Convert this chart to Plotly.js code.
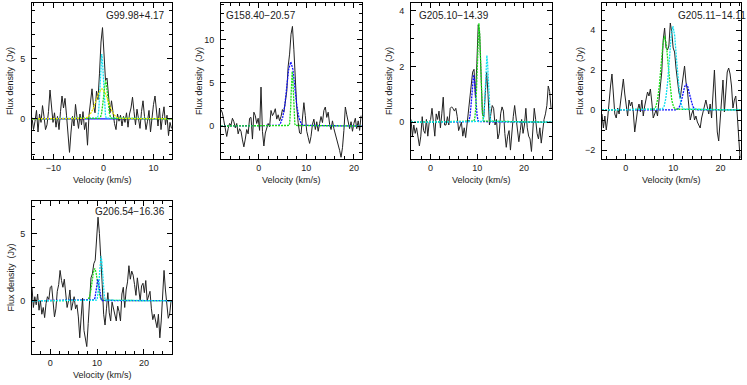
<!DOCTYPE html>
<html>
<head>
<meta charset="utf-8">
<script src="https://cdn.plot.ly/plotly-3.0.1.min.js"></script>
<style>
  html, body { margin: 0; padding: 0; background: #fff; }
  #plot { width: 747px; height: 385px; }
</style>
</head>
<body>
<div id="plot"></div>
<script>
// source names, one per panel
const sourceNames = ['G99.98+4.17', 'G158.40−20.57', 'G205.10−14.39', 'G205.11−14.11', 'G206.54−16.36'];

// first channel velocity (km/s) and channel width
const velStart = [-14.3, -7.9, -4.2, -5.0, -3.9];
const velStep = 0.3;

// observed flux density per channel (Jy)
const fluxG99 = [0.1, -0.9, -0.2, 0.7, -1.1, 0.4, -0.3, 1.1, 0.2, -0.9,
  -0.5, 0.6, 2.4, 0.9, -0.3, 0.5, -0.7, 0.2, -0.9, 0.6,
  1.9, 0.9, 1.7, 0.3, -1.3, -2.8, -1.1, 0.2, -0.6, 1.2,
  0.1, -0.8, 0.4, -0.5, 0.6, -0.9, -0.3, -2.2, 0.3, 1.4,
  2.5, 1.1, 0.5, 2.3, 1.6, 3.8, 6.4, 7.6, 5.0, 3.2,
  3.4, 1.7, 0.5, 1.5, 0.3, -0.4, -0.9, 0.4, -0.2, 0.3,
  -0.6, 0.2, -0.3, 0.5, -0.7, 0.4, 0.9, 1.8, 0.6, -0.5,
  0.8, 0.1, -0.8, 0.6, 1.5, 0.2, -0.9, -0.2, 0.7, -1.1,
  0.3, 1.2, 1.9, 0.4, -0.6, 0.9, -0.9, 0.2, 1.0, -0.5,
  0.3, -1.4, -0.3, -0.8];
const fluxG158 = [1.9, 1.5, 0.6, -0.4, -1.2, -0.3, 0.3, 0.1, 0.9, 0.5,
  -0.2, 0.3, -0.9, -0.3, -0.6, -1.6, -2.4, -1.5, -0.4, -0.9,
  0.9, 1.0, -1.5, 1.6, 1.2, 0.3, 0.9, -0.5, 4.5, -0.6,
  -2.3, -0.8, -0.2, 0.3, -0.1, 1.8, 1.2, 1.5, 2.0, 0.8,
  1.3, 0.6, 1.1, 1.9, 1.6, 2.7, 4.0, 6.9, 8.3, 10.6,
  11.5, 8.8, 5.0, 2.2, 0.4, -0.8, -0.9, 1.5, 2.7, 1.2,
  -0.6, -1.3, -2.0, -1.2, 0.2, 0.8, -0.4, 0.5, -0.6, 0.3,
  1.1, 0.4, 1.8, 2.2, 1.0, 1.6, 0.2, -0.4, 0.6, -0.3,
  -0.9, -1.4, -2.2, -2.8, -3.6, -2.5, -0.5, 2.2, 1.3, 0.4,
  -0.3, 0.5, -0.6, 0.3, 0.9, -0.3, 0.6, -0.5, 1.2];
const fluxG205a = [0.1, -0.5, -0.1, -0.4, -0.2, -0.6, -0.85, -0.5, 0.2, -0.3,
  -0.4, 0.1, -0.5, 0.0, 0.1, 0.5, -0.1, -0.5, 0.3, 0.1,
  0.4, -0.2, 0.3, 0.9, -0.1, -0.1, 0.2, -0.1, 0.5, 0.55,
  0.5, 0.4, 0.5, 0.2, -0.3, -0.1, 0.0, -0.5, -0.2, -0.55,
  -0.1, 0.3, 0.8, 1.4, 1.8, 1.9, 0.9, 2.1, 3.5, 3.2,
  1.5, 0.3, 0.2, 1.2, 1.8, 1.0, -0.1, 0.3, 0.6, 0.5,
  -0.1, 0.1, -0.6, -0.4, 0.3, 0.55, 0.4, -0.4, -0.9, -0.5,
  -0.3, -1.0, -0.2, 0.2, 0.6, 0.1, -0.4, -0.7, -0.3, 0.1,
  -0.4, -0.1, 0.5, -0.2, -0.5, -0.6, -1.05, -0.4, 0.5, 0.1,
  -0.4, -0.6, -0.2, -0.75, -0.2, 0.1, 0.3, 0.6, 1.3, 1.1,
  0.5];
const fluxG205b = [-0.2, -0.9, -0.3, -1.0, -0.4, 0.6, 1.2, 1.8, 0.9, -0.2,
  -0.4, 0.1, -0.2, 0.3, 0.9, 1.55, 0.8, 0.3, -0.3, 0.5,
  0.2, 0.4, -0.1, -1.1, -0.4, 0.0, 0.3, -0.1, 0.5, -0.3,
  0.2, 0.6, 0.9, 0.7, 1.05, 0.4, -0.4, -0.2, 0.0, -0.3,
  0.6, 1.2, 1.9, 3.5, 4.1, 3.1, 3.0, 3.2, 4.35, 3.9,
  3.1, 2.9, 2.1, 1.4, 0.9, 0.6, 1.1, 1.5, 2.2, 1.4,
  1.0, 0.2, -0.5, -0.2, 0.0, -0.5, -0.3, -0.6, -0.8, -0.9,
  -0.4, 0.0, 0.2, 0.5, 0.1, -0.2, 0.3, -0.4, 0.8, 2.0,
  0.4, -1.1, -1.55, -0.4, 0.5, 1.5, -0.1, 1.2, 1.9, 2.1,
  1.8, 1.2, 0.1, 0.5, 0.7, -0.2, -1.5, -2.4];
const fluxG206 = [1.0, -0.5, 0.3, -0.3, 0.5, -0.7, 0.0, -1.0, -0.5, -1.25,
  -0.2, 0.3, 0.1, 1.0, 1.1, 0.1, -1.2, -0.6, 0.7, 1.2,
  2.25, 1.5, 1.0, 1.6, 0.5, -0.5, 0.0, 0.8, -0.7, -0.2,
  0.3, -0.6, -0.3, -1.2, -2.75, -1.2, 0.2, -2.2, -2.9, -3.4,
  -1.7, 0.0, 1.7, 2.0, 2.75, 3.0, 4.3, 6.2, 5.0, 3.3,
  1.2, -1.0, -1.8, -0.6, 0.6, -0.9, -1.5, -0.1, -0.6, -1.2,
  -1.5, -0.4, -0.8, -1.5, 0.5, 1.0, -0.5, 0.8, 1.4, 2.6,
  1.6, 2.2, 1.9, 1.2, 0.4, 1.7, 0.6, 0.0, 1.1, 1.3,
  0.6, 1.5, 0.0, 0.4, 0.7, -0.6, -1.4, -1.0, -1.6, -2.0,
  -1.0, -2.75, -1.5, 0.7, 2.25, 0.8, -0.5, -1.3, -1.0, 0.0];
const fluxes = [fluxG99, fluxG158, fluxG205a, fluxG205b, fluxG206];

// gaussian fit components: velocities and fluxes
const fitVelG99 = [
  [-1.25, -1.1, -0.95, -0.8, -0.65, -0.5, -0.35, -0.2, -0.05, 0.1, 0.25, 0.4, 0.55],
  [-0.8, -0.6, -0.4, -0.2, 0.0, 0.2, 0.4, 0.6, 0.8, 1.0, 1.2, 1.4, 1.6],
  [-3.9, -3.3, -2.7, -2.1, -1.5, -0.9, -0.3, 0.3, 0.9, 1.5, 2.1, 2.7, 3.3]
];
const fitFluxG99 = [
  [0.06, 0.24, 0.73, 1.75, 3.28, 4.76, 5.4, 4.76, 3.28, 1.75, 0.73, 0.24, 0.06],
  [0.04, 0.14, 0.43, 1.04, 1.94, 2.82, 3.2, 2.82, 1.94, 1.04, 0.43, 0.14, 0.04],
  [0.03, 0.11, 0.34, 0.81, 1.52, 2.2, 2.5, 2.2, 1.52, 0.81, 0.34, 0.11, 0.03]
];
const fitVelG158 = [
  [4.2, 4.6, 5.05, 5.5, 5.9, 6.3, 6.75, 7.2, 7.6, 8.0, 8.45, 8.9, 9.3],
  [6.39, 6.5, 6.61, 6.72, 6.83, 6.94, 7.05, 7.16, 7.27, 7.38, 7.49, 7.6, 7.71]
];
const fitFluxG158 = [
  [0.08, 0.33, 1.0, 2.41, 4.49, 6.53, 7.4, 6.53, 4.49, 2.41, 1.0, 0.33, 0.08],
  [0.07, 0.28, 0.85, 2.05, 3.82, 5.56, 6.3, 5.56, 3.82, 2.05, 0.85, 0.28, 0.07]
];
const fitVelG205a = [
  [8.06, 8.25, 8.44, 8.63, 8.82, 9.01, 9.2, 9.39, 9.58, 9.77, 9.96, 10.15, 10.34],
  [9.3, 9.475, 9.65, 9.825, 10.0, 10.175, 10.35, 10.525, 10.7, 10.875, 11.05, 11.225, 11.4],
  [11.15, 11.3, 11.45, 11.6, 11.75, 11.9, 12.05, 12.2, 12.35, 12.5, 12.65, 12.8, 12.95]
];
const fitFluxG205a = [
  [0.02, 0.07, 0.23, 0.55, 1.03, 1.5, 1.7, 1.5, 1.03, 0.55, 0.23, 0.07, 0.02],
  [0.04, 0.16, 0.48, 1.15, 2.15, 3.13, 3.55, 3.13, 2.15, 1.15, 0.48, 0.16, 0.04],
  [0.03, 0.11, 0.32, 0.78, 1.46, 2.12, 2.4, 2.12, 1.46, 0.78, 0.32, 0.11, 0.03]
];
const fitVelG205b = [
  [10.65, 11.0, 11.35, 11.7, 12.05, 12.4, 12.75, 13.1, 13.45, 13.8, 14.15, 14.5, 14.85],
  [5.95, 6.33, 6.7, 7.08, 7.45, 7.83, 8.2, 8.58, 8.95, 9.33, 9.7, 10.08, 10.45],
  [7.7, 8.08, 8.45, 8.83, 9.2, 9.58, 9.95, 10.33, 10.7, 11.08, 11.45, 11.83, 12.2]
];
const fitFluxG205b = [
  [0.01, 0.06, 0.18, 0.42, 0.79, 1.15, 1.3, 1.15, 0.79, 0.42, 0.18, 0.06, 0.01],
  [0.04, 0.16, 0.5, 1.2, 2.25, 3.26, 3.7, 3.26, 2.25, 1.2, 0.5, 0.16, 0.04],
  [0.05, 0.18, 0.57, 1.37, 2.55, 3.7, 4.2, 3.7, 2.55, 1.37, 0.57, 0.18, 0.05]
];
const fitVelG206 = [
  [7.85, 8.125, 8.4, 8.675, 8.95, 9.225, 9.5, 9.775, 10.05, 10.325, 10.6, 10.875, 11.15],
  [9.25, 9.4, 9.55, 9.7, 9.85, 10.0, 10.15, 10.3, 10.45, 10.6, 10.75, 10.9, 11.05],
  [9.86, 10.03, 10.19, 10.36, 10.52, 10.69, 10.85, 11.02, 11.18, 11.35, 11.51, 11.68, 11.84]
];
const fitFluxG206 = [
  [0.03, 0.11, 0.32, 0.78, 1.46, 2.12, 2.4, 2.12, 1.46, 0.78, 0.32, 0.11, 0.03],
  [0.02, 0.07, 0.22, 0.52, 0.97, 1.41, 1.6, 1.41, 0.97, 0.52, 0.22, 0.07, 0.02],
  [0.04, 0.15, 0.45, 1.07, 2.0, 2.91, 3.3, 2.91, 2.0, 1.07, 0.45, 0.15, 0.04]
];
const fitVels = [fitVelG99, fitVelG158, fitVelG205a, fitVelG205b, fitVelG206];
const fitFluxes = [fitFluxG99, fitFluxG158, fitFluxG205a, fitFluxG205b, fitFluxG206];

// ---- styling / layout below ----
const W = 747, H = 385;
const FONT = 'Liberation Sans, Arial, sans-serif';
const INK = '#222';
const BLUE = '#1010ff', GREEN = '#18e018', CYAN = '#10e0f0', YELLOW = '#e8e800';

const fitColors = [
  [CYAN, GREEN, YELLOW],
  [BLUE, GREEN],
  [BLUE, GREEN, CYAN],
  [BLUE, GREEN, CYAN],
  [GREEN, BLUE, CYAN]
];

// frame boxes in pixels: left, right, top, bottom
const panels = [
  { box: [32, 172, 3, 159], xr: [-14.3, 13.7], yr: [-3.35, 9.65], ydt: 5, ymin: 1, lab: [167, 15, 'right'] },
  { box: [221, 362, 3, 159], xr: [-7.9, 21.7], yr: [-3.8, 14.2], ydt: 5, ymin: 1, lab: [224, 15, 'left'] },
  { box: [411, 552, 3, 159], xr: [-4.2, 26.0], yr: [-1.32, 4.28], ydt: 2, ymin: 0.5, lab: [417, 15, 'left'] },
  { box: [602, 741, 3, 159], xr: [-5.0, 24.3], yr: [-2.45, 5.35], ydt: 2, ymin: 0.5, lab: [676, 15, 'left'] },
  { box: [32, 172, 201, 354], xr: [-3.9, 26.0], yr: [-3.95, 7.4], ydt: 5, ymin: 1, lab: [167, 212, 'right'] }
];

function axisBase() {
  return {
    showline: true, linecolor: '#000', linewidth: 1, mirror: 'ticks',
    ticks: 'inside', ticklen: 5, tickwidth: 1, tickcolor: '#000',
    showgrid: false, zeroline: false, tick0: 0,
    tickfont: { family: FONT, size: 9, color: INK },
    fixedrange: true
  };
}

const traces = [];
const layout = {
  width: W, height: H,
  margin: { l: 0, r: 0, t: 0, b: 0 },
  paper_bgcolor: '#fff', plot_bgcolor: '#fff',
  showlegend: false,
  annotations: []
};

panels.forEach((p, i) => {
  const n = i + 1;
  const xa = n === 1 ? 'x' : 'x' + n;
  const ya = n === 1 ? 'y' : 'y' + n;
  const [l, r, t, b] = p.box;

  layout['xaxis' + (n === 1 ? '' : n)] = Object.assign(axisBase(), {
    domain: [l / W, r / W], range: p.xr, anchor: ya, dtick: 10,
    ticklabelstandoff: 0,
    minor: { dtick: 2, ticks: 'inside', ticklen: 3, tickcolor: '#000', showgrid: false }
  });
  layout['yaxis' + (n === 1 ? '' : n)] = Object.assign(axisBase(), {
    domain: [1 - b / H, 1 - t / H], range: p.yr, anchor: xa, dtick: p.ydt,
    ticklabelstandoff: 4,
    minor: { dtick: p.ymin, ticks: 'inside', ticklen: 3, tickcolor: '#000', showgrid: false }
  });

  // zero baseline of the fits (blue under the yellow one in the first panel)
  if (i === 0) {
    traces.push({
      x: [p.xr[0], p.xr[1]], y: [0, 0], xaxis: xa, yaxis: ya,
      type: 'scatter', mode: 'lines', hoverinfo: 'skip',
      line: { color: BLUE, width: 1.2 }
    });
  }

  // observed spectrum
  traces.push({
    x0: velStart[i], dx: velStep, y: fluxes[i], xaxis: xa, yaxis: ya,
    type: 'scatter', mode: 'lines',
    line: { color: INK, width: 1 }
  });

  // fitted gaussian components, padded with zero to the panel edges
  fitVels[i].forEach((vel, k) => {
    traces.push({
      x: [p.xr[0]].concat(vel, [p.xr[1]]),
      y: [0].concat(fitFluxes[i][k], [0]),
      xaxis: xa, yaxis: ya,
      type: 'scatter', mode: 'lines', hoverinfo: 'skip',
      line: { color: fitColors[i][k], width: 1.3, dash: '2px,1px' }
    });
  });

  // source name
  layout.annotations.push({
    xref: 'paper', yref: 'paper', x: p.lab[0] / W, y: 1 - p.lab[1] / H,
    xanchor: p.lab[2], yanchor: 'middle', showarrow: false,
    text: sourceNames[i], font: { family: FONT, size: 10, color: INK }
  });
  // axis titles, at fixed offsets from the frame
  layout.annotations.push({
    xref: 'paper', yref: 'paper', x: (l - 22) / W, y: 1 - ((t + b) / 2) / H,
    xanchor: 'center', yanchor: 'middle', textangle: -90, showarrow: false,
    text: 'Flux density  (Jy)', font: { family: FONT, size: 9, color: INK }
  });
  layout.annotations.push({
    xref: 'paper', yref: 'paper', x: ((l + r) / 2) / W, y: 1 - (b + 21) / H,
    xanchor: 'center', yanchor: 'middle', showarrow: false,
    text: 'Velocity (km/s)', font: { family: FONT, size: 9, color: INK }
  });
});

Plotly.newPlot('plot', traces, layout, { displayModeBar: false, staticPlot: true });
</script>
</body>
</html>
